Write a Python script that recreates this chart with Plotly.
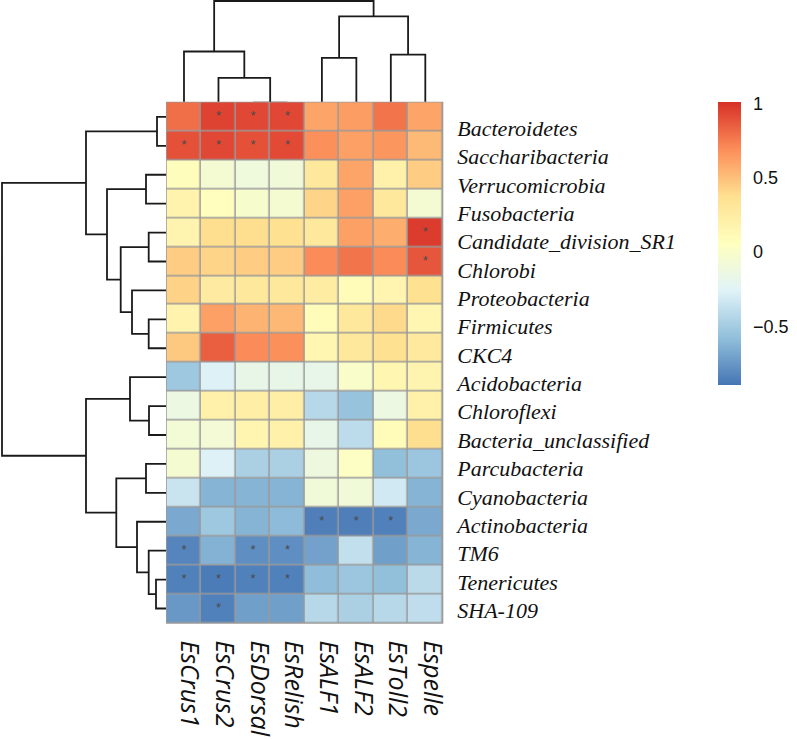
import plotly.graph_objects as go

# columns / rows in the clustered display order
genes = ['EsCrus1', 'EsCrus2', 'EsDorsal', 'EsRelish', 'EsALF1', 'EsALF2', 'EsToll2', 'Espelle']
phyla = ['Bacteroidetes', 'Saccharibacteria', 'Verrucomicrobia', 'Fusobacteria',
         'Candidate_division_SR1', 'Chlorobi', 'Proteobacteria', 'Firmicutes', 'CKC4',
         'Acidobacteria', 'Chloroflexi', 'Bacteria_unclassified', 'Parcubacteria',
         'Cyanobacteria', 'Actinobacteria', 'TM6', 'Tenericutes', 'SHA-109']

corr = [
    [0.80, 0.95, 0.93, 0.93, 0.60, 0.63, 0.78, 0.60],
    [0.90, 0.93, 0.90, 0.92, 0.68, 0.62, 0.66, 0.52],
    [0.08, -0.05, -0.10, -0.08, 0.30, 0.60, 0.20, 0.45],
    [0.18, 0.07, -0.02, -0.04, 0.42, 0.62, 0.30, -0.05],
    [0.17, 0.38, 0.38, 0.36, 0.30, 0.62, 0.57, 0.97],
    [0.45, 0.42, 0.45, 0.45, 0.70, 0.78, 0.70, 0.88],
    [0.43, 0.27, 0.30, 0.30, 0.25, 0.10, 0.16, 0.37],
    [0.18, 0.62, 0.55, 0.53, 0.10, 0.30, 0.40, 0.15],
    [0.47, 0.85, 0.70, 0.68, 0.15, 0.30, 0.37, 0.28],
    [-0.52, -0.27, -0.17, -0.17, -0.18, 0.00, 0.15, 0.17],
    [-0.13, 0.20, 0.23, 0.23, -0.42, -0.55, -0.13, 0.20],
    [-0.07, -0.06, 0.16, 0.20, -0.17, -0.40, 0.10, 0.38],
    [-0.04, -0.27, -0.47, -0.47, -0.12, 0.03, -0.57, -0.53],
    [-0.35, -0.62, -0.62, -0.62, -0.08, -0.08, -0.32, -0.62],
    [-0.67, -0.52, -0.62, -0.59, -0.85, -0.85, -0.84, -0.67],
    [-0.82, -0.63, -0.78, -0.78, -0.70, -0.38, -0.71, -0.62],
    [-0.84, -0.86, -0.84, -0.84, -0.58, -0.53, -0.57, -0.41],
    [-0.74, -0.84, -0.71, -0.71, -0.42, -0.47, -0.42, -0.39],
]

# significant cells (row, col)
stars = [(0, 1), (0, 2), (0, 3), (1, 0), (1, 1), (1, 2), (1, 3), (4, 7), (5, 7),
         (14, 4), (14, 5), (14, 6), (15, 0), (15, 2), (15, 3),
         (16, 0), (16, 1), (16, 2), (16, 3), (17, 1)]

# linkage: (left, right, height); leaves are 0..n-1 in display order
col_merges = [(2, 3, 0), (1, 8, 24.5), (0, 9, 50.7), (4, 5, 44.4),
              (6, 7, 47.7), (11, 12, 85.5), (10, 13, 100.7)]
row_merges = [(0, 1, 9), (2, 3, 20), (4, 5, 17.3), (7, 8, 17.3), (6, 21, 34),
              (20, 22, 45.3), (19, 23, 59), (18, 24, 80), (10, 11, 17), (9, 26, 36),
              (12, 13, 20), (16, 17, 10), (15, 29, 17.3), (14, 30, 29),
              (28, 31, 49.7), (27, 32, 80), (25, 33, 164)]

zmin, zmax = -0.89, 1.01
rdylbu = ['#4575B4', '#91BFDB', '#E0F3F8', '#FFFFBF', '#FEE090', '#FC8D59', '#D73027']


def dendro_lines(n, merges):
    pos = [float(i) for i in range(n)]
    hgt = [0.0] * n
    xs, ys = [], []
    for a, b, h in merges:
        xs += [pos[a], pos[a], pos[b], pos[b], None]
        ys += [hgt[a], h, h, hgt[b], None]
        pos.append((pos[a] + pos[b]) / 2)
        hgt.append(h)
    return xs, ys


W, H = 797, 739
hx = [166 / W, 443.3 / W]
hy = [1 - 623.7 / H, 1 - 101.7 / H]
# label axes sit a little offset from the cells, like in the original
lx = [172 / W, 449.3 / W]
ly = [1 - 624.4 / H, 1 - 114.1 / H]
ex, ey = 0.022, 0.026

fig = go.Figure()

fig.add_trace(go.Heatmap(
    z=corr, x=list(range(len(genes))), y=list(range(len(phyla))),
    zmin=zmin, zmax=zmax,
    colorscale=[[i / 6, c] for i, c in enumerate(rdylbu)],
    xgap=1.5, ygap=1.5, hoverinfo='z',
    colorbar=dict(x=718 / W, xanchor='left', y=hy[1], yanchor='top',
                  len=283, lenmode='pixels', thickness=23, xpad=0, ypad=0,
                  outlinewidth=0, tickvals=[-0.5, 0, 0.5, 1],
                  ticktext=['\u22120.5', '0', '0.5', '1'],
                  ticks='outside', ticklen=9, tickcolor='white',
                  tickfont=dict(family='Liberation Sans', size=18, color='#111')),
))

fig.add_trace(go.Scatter(
    x=[c for r, c in stars], y=[r for r, c in stars], mode='text', text=['*'] * len(stars),
    textfont=dict(family='Liberation Sans', size=13, color='#4a4a4a'),
    hoverinfo='skip', showlegend=False,
))

cx, ch = dendro_lines(len(genes), col_merges)
fig.add_trace(go.Scatter(x=cx, y=ch, mode='lines', xaxis='x2', yaxis='y2',
                         line=dict(color='#1a1a1a', width=1.8), hoverinfo='skip', showlegend=False))

rx, rh = dendro_lines(len(phyla), row_merges)
fig.add_trace(go.Scatter(x=rh, y=rx, mode='lines', xaxis='x3', yaxis='y3',
                         line=dict(color='#1a1a1a', width=1.8), hoverinfo='skip', showlegend=False))

# empty trace so the label axes get drawn
fig.add_trace(go.Scatter(x=[None], y=[None], xaxis='x4', yaxis='y4', mode='markers',
                         hoverinfo='skip', showlegend=False))

xr = [-0.5 - ex, len(genes) - 0.5 + ex]
yr = [len(phyla) - 0.5 + ey, -0.5 - ey]
blank = dict(showgrid=False, zeroline=False, showline=False, showticklabels=False, ticks='')

fig.update_layout(
    width=W, height=H, margin=dict(l=0, r=0, t=0, b=0),
    paper_bgcolor='white', plot_bgcolor='rgba(0,0,0,0)', showlegend=False,
    xaxis=dict(domain=hx, range=xr, **blank),
    yaxis=dict(domain=hy, range=yr, **blank),
    xaxis2=dict(domain=hx, range=xr, anchor='y2', **blank),
    yaxis2=dict(domain=[hy[1], 1], range=[1, 101.7], anchor='x2', **blank),
    xaxis3=dict(domain=[0, hx[0]], range=[166, 0], anchor='y3', **blank),
    yaxis3=dict(domain=hy, range=yr, anchor='x3', **blank),
    xaxis4=dict(domain=lx, range=[-0.5, len(genes) - 0.5], anchor='y4',
                tickvals=list(range(len(genes))), ticktext=genes,
                tickangle=90, ticks='', showgrid=False, zeroline=False, automargin=False,
                ticklabelstandoff=15,
                tickfont=dict(family='Open Sans', size=25, style='italic', color='#111')),
    yaxis4=dict(domain=ly, range=[len(phyla) - 0.5, -0.5], anchor='x4',
                tickvals=list(range(len(phyla))), ticktext=phyla,
                side='right', ticks='', showgrid=False, zeroline=False, automargin=False,
                ticklabelstandoff=7,
                tickfont=dict(family='Liberation Serif', size=22, style='italic', color='#111')),
    shapes=[dict(type='rect', xref='x domain', yref='y domain', x0=0, x1=1, y0=0, y1=1,
                 fillcolor='#9a9a9a', line=dict(width=0), layer='below')],
)

fig.write_html("out.html", config={'displayModeBar': False},
               post_script="document.body.style.margin='0';")
